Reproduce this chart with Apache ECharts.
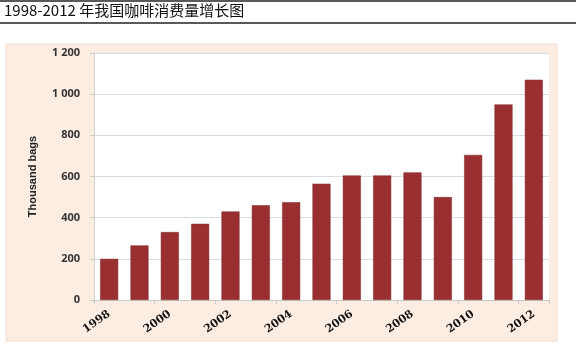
<!DOCTYPE html>
<html><head><meta charset="utf-8">
<script src="https://cdn.jsdelivr.net/npm/echarts@6/dist/echarts.min.js"></script>
<style>html,body{margin:0;padding:0;background:#fff}#c{width:576px;height:356px}</style>
</head><body><div id="c"></div>
<script>
const titleText = '1998-2012 年我国咖啡消费量增长图';
const years = ['1998','1999','2000','2001','2002','2003','2004','2005','2006','2007','2008','2009','2010','2011','2012'];
const consumption = [200, 265, 330, 370, 430, 460, 475, 565, 605, 605, 620, 500, 705, 950, 1070];
const yTicks = [0, 200, 400, 600, 800, 1000, 1200];
const yAxisName = 'Thousand bags';

const chart = echarts.init(document.getElementById('c'));
chart.setOption({
  animation: false,
  backgroundColor: '#ffffff',
  graphic: [
    {type:'line', shape:{x1:0,y1:1,x2:576,y2:1}, style:{stroke:'#222',lineWidth:1.5}, z:-5},
    {type:'line', shape:{x1:0,y1:23,x2:576,y2:23}, style:{stroke:'#222',lineWidth:1.5}, z:-5},
    {type:'rect', shape:{x:6,y:44,width:551,height:297}, style:{fill:'#fcede3',stroke:'#f2ddd0',lineWidth:1}, z:-10},
    {type:'text', left:4, top:3, style:{text:titleText, font:'15px "Noto Sans CJK SC", sans-serif', fill:'#111'}}
  ],
  grid: {left:94, right:27, top:53, bottom:56, show:true, backgroundColor:'#ffffff', borderWidth:0},
  xAxis: {
    type:'category', data: years,
    axisLine:{show:true, lineStyle:{color:'#c8c8c8'}},
    axisTick:{show:true, alignWithLabel:false, length:4, lineStyle:{color:'#c8c8c8'}},
    axisLabel:{interval:1, rotate:35, margin:13, color:'#111', fontFamily:'"DejaVu Serif", serif', fontWeight:'bold', fontSize:11}
  },
  yAxis: {
    type:'value', min:0, max:1200, interval:200,
    name: yAxisName, nameLocation:'middle', nameGap:56, nameRotate:90,
    nameTextStyle:{color:'#222', fontFamily:'"Liberation Sans Narrow","Liberation Sans", sans-serif', fontWeight:'bold', fontSize:11},
    axisLine:{show:true, lineStyle:{color:'#d0d0d0'}},
    axisTick:{show:true, length:4, lineStyle:{color:'#c8c8c8'}},
    splitLine:{lineStyle:{color:'#dcdce8'}},
    axisLabel:{margin:14, color:'#333', fontFamily:'"Open Sans", sans-serif', fontWeight:'bold', fontSize:11,
      formatter: v => yTicks.includes(v) ? (v >= 1000 ? String(v).replace(/(\d)(\d{3})$/, '$1 $2') : String(v)) : ''}
  },
  series: [{
    type:'bar', data: consumption, barWidth:18,
    itemStyle:{color:'#9a2f31', borderColor:'#7e2426', borderWidth:0.5}
  }]
});
</script></body></html>
